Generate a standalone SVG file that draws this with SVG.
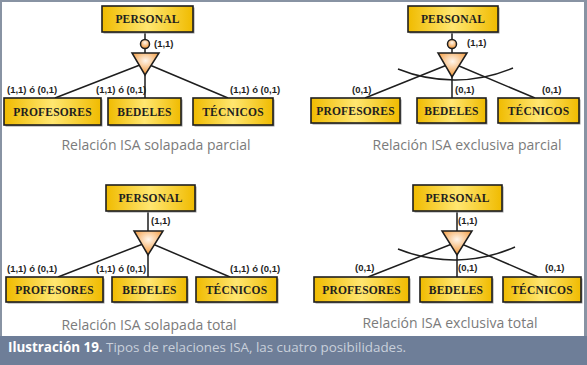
<svg xmlns="http://www.w3.org/2000/svg" width="587" height="365" viewBox="0 0 587 365">
  <style>
    .frame { fill: #8893a3; }
    .ent rect.box { fill: url(#gold); stroke: #1e1e1e; stroke-width: 1.6; }
    .ent rect.shadow { fill: #9a9a9a; }
    .ent text { font-family: "Liberation Serif", "Times New Roman", serif; font-weight: bold; font-size: 11.5px; fill: #1e1e1e; text-anchor: middle; letter-spacing: 0.2px; }
    .link { stroke: #1e1e1e; stroke-width: 1.5; fill: none; }
    .isa { fill: url(#orange); stroke: #1e1e1e; stroke-width: 1.5; }
    .card { font-family: "Liberation Sans", Arial, sans-serif; font-weight: bold; font-size: 9.5px; fill: #1e1e1e; }
    .title { font-family: "Open Sans", "Liberation Sans", sans-serif; font-size: 14px; fill: #7b7b7b; text-anchor: middle; }
    .cap { font-family: "Open Sans", "Liberation Sans", sans-serif; font-size: 13.4px; }
  </style>
  <defs>
    <linearGradient id="gold" x1="0" y1="0" x2="1" y2="0">
      <stop offset="0" stop-color="#f0bb00"/>
      <stop offset="0.5" stop-color="#ffe670"/>
      <stop offset="1" stop-color="#f0bb00"/>
    </linearGradient>
    <radialGradient id="orange" cx="0.5" cy="0.35" r="0.6">
      <stop offset="0" stop-color="#fff6ec"/>
      <stop offset="1" stop-color="#f39a3c"/>
    </radialGradient>
  </defs>

  <!-- page and frame -->
  <rect x="0" y="0" width="587" height="365" fill="#ffffff"/>
  <rect class="frame" x="0" y="0" width="587" height="2"/>
  <rect class="frame" x="0" y="0" width="2" height="365"/>
  <rect class="frame" x="584" y="0" width="3" height="365"/>
  <rect x="0" y="336" width="587" height="29" fill="#6e7e98"/>
  <text class="cap" x="8" y="352"><tspan font-weight="bold" fill="#ffffff">Ilustración 19.</tspan><tspan fill="#c9d0db"> Tipos de relaciones ISA, las cuatro posibilidades.</tspan></text>

  <!-- connectors -->
  <g id="connectors">
    <!-- solapada parcial -->
    <path class="link" d="M145,32 V98 M145,63 L55,98 M145,63 L228,98"/>
    <!-- exclusiva parcial -->
    <path class="link" d="M452,32 V98 M452,63 L365,98 M452,63 L535,98"/>
    <path class="link" d="M398,69 A150,150 0 0 0 513,68"/>
    <!-- solapada total -->
    <path class="link" d="M148,211 V277 M148,242 L58,277 M148,242 L230,277"/>
    <!-- exclusiva total -->
    <path class="link" d="M457,211 V277 M457,242 L368,277 M457,242 L538,277"/>
    <path class="link" d="M398,249 A150,150 0 0 0 515,247"/>
  </g>

  <!-- ISA symbols -->
  <g id="isa-sp">
    <circle class="isa" cx="145" cy="44" r="4.5"/>
    <polygon class="isa" points="132,53 159,53 145,75"/>
  </g>
  <g id="isa-ep">
    <circle class="isa" cx="452" cy="44" r="4.5"/>
    <polygon class="isa" points="438,53 467,53 452,77"/>
  </g>
  <g id="isa-st">
    <polygon class="isa" points="134,231 163,231 148,255"/>
  </g>
  <g id="isa-et">
    <polygon class="isa" points="442,231 472,231 457,255"/>
  </g>

  <!-- cardinalities -->
  <g id="cards">
    <text class="card" x="154" y="47">(1,1)</text>
    <text class="card" x="7" y="93">(1,1) ó (0,1)</text>
    <text class="card" x="96" y="93">(1,1) ó (0,1)</text>
    <text class="card" x="230" y="93">(1,1) ó (0,1)</text>

    <text class="card" x="467" y="46">(1,1)</text>
    <text class="card" x="352" y="93">(0,1)</text>
    <text class="card" x="455" y="93">(0,1)</text>
    <text class="card" x="542" y="93">(0,1)</text>

    <text class="card" x="151" y="224">(1,1)</text>
    <text class="card" x="7" y="272">(1,1) ó (0,1)</text>
    <text class="card" x="96" y="272">(1,1) ó (0,1)</text>
    <text class="card" x="230" y="272">(1,1) ó (0,1)</text>

    <text class="card" x="458" y="224">(1,1)</text>
    <text class="card" x="355" y="271">(0,1)</text>
    <text class="card" x="458" y="271">(0,1)</text>
    <text class="card" x="545" y="271">(0,1)</text>
  </g>

  <!-- entities: solapada parcial -->
  <g id="sp-personal" class="ent"><rect class="shadow" x="103.5" y="7.5" width="91" height="26"/><rect class="box" x="102" y="6" width="91" height="26"/><text x="147.5" y="23">PERSONAL</text></g>
  <g id="sp-profesores" class="ent"><rect class="shadow" x="5.5" y="99.5" width="97" height="27"/><rect class="box" x="4" y="98" width="97" height="27"/><text x="52.5" y="115.5">PROFESORES</text></g>
  <g id="sp-bedeles" class="ent"><rect class="shadow" x="109.5" y="99.5" width="73" height="27"/><rect class="box" x="108" y="98" width="73" height="27"/><text x="144.5" y="115.5">BEDELES</text></g>
  <g id="sp-tecnicos" class="ent"><rect class="shadow" x="194.5" y="99.5" width="80" height="27"/><rect class="box" x="193" y="98" width="80" height="27"/><text x="233" y="115.5">TÉCNICOS</text></g>
  <text class="title" x="156" y="150">Relación ISA solapada parcial</text>

  <!-- entities: exclusiva parcial -->
  <g id="ep-personal" class="ent"><rect class="shadow" x="409.5" y="7.5" width="90" height="26"/><rect class="box" x="408" y="6" width="90" height="26"/><text x="453" y="23">PERSONAL</text></g>
  <g id="ep-profesores" class="ent"><rect class="shadow" x="312.5" y="99.5" width="89" height="25"/><rect class="box" x="311" y="98" width="89" height="25"/><text x="355.5" y="114.5">PROFESORES</text></g>
  <g id="ep-bedeles" class="ent"><rect class="shadow" x="418.5" y="99.5" width="69" height="25"/><rect class="box" x="417" y="98" width="69" height="25"/><text x="451.5" y="114.5">BEDELES</text></g>
  <g id="ep-tecnicos" class="ent"><rect class="shadow" x="499.5" y="99.5" width="81" height="25"/><rect class="box" x="498" y="98" width="81" height="25"/><text x="538.5" y="114.5">TÉCNICOS</text></g>
  <text class="title" x="467" y="150">Relación ISA exclusiva parcial</text>

  <!-- entities: solapada total -->
  <g id="st-personal" class="ent"><rect class="shadow" x="107.5" y="186.5" width="89" height="26"/><rect class="box" x="106" y="185" width="89" height="26"/><text x="150.5" y="202">PERSONAL</text></g>
  <g id="st-profesores" class="ent"><rect class="shadow" x="7.5" y="278.5" width="97" height="25"/><rect class="box" x="6" y="277" width="97" height="25"/><text x="54.5" y="293.5">PROFESORES</text></g>
  <g id="st-bedeles" class="ent"><rect class="shadow" x="113.5" y="278.5" width="75" height="25"/><rect class="box" x="112" y="277" width="75" height="25"/><text x="149.5" y="293.5">BEDELES</text></g>
  <g id="st-tecnicos" class="ent"><rect class="shadow" x="197.5" y="278.5" width="81" height="25"/><rect class="box" x="196" y="277" width="81" height="25"/><text x="236.5" y="293.5">TÉCNICOS</text></g>
  <text class="title" x="149" y="330">Relación ISA solapada total</text>

  <!-- entities: exclusiva total -->
  <g id="et-personal" class="ent"><rect class="shadow" x="414.5" y="186.5" width="89" height="26"/><rect class="box" x="413" y="185" width="89" height="26"/><text x="457.5" y="202">PERSONAL</text></g>
  <g id="et-profesores" class="ent"><rect class="shadow" x="315.5" y="278.5" width="95" height="25"/><rect class="box" x="314" y="277" width="95" height="25"/><text x="361.5" y="293.5">PROFESORES</text></g>
  <g id="et-bedeles" class="ent"><rect class="shadow" x="421.5" y="278.5" width="72" height="25"/><rect class="box" x="420" y="277" width="72" height="25"/><text x="456" y="293.5">BEDELES</text></g>
  <g id="et-tecnicos" class="ent"><rect class="shadow" x="504.5" y="278.5" width="78" height="25"/><rect class="box" x="503" y="277" width="78" height="25"/><text x="542" y="293.5">TÉCNICOS</text></g>
  <text class="title" x="450" y="328">Relación ISA exclusiva total</text>
</svg>
